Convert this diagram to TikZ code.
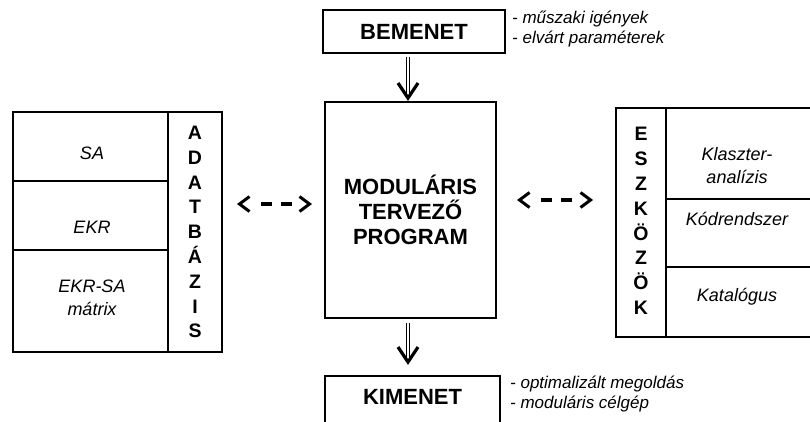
\documentclass[tikz,border=0pt]{standalone}
\usepackage{fontspec}
\setmainfont{Liberation Sans}
\usetikzlibrary{arrows.meta,calc}
\begin{document}
\begin{tikzpicture}[x=1pt,y=-1pt,
  box/.style={draw,line width=1.2pt,inner sep=0pt,outer sep=0pt},
  mainbox/.style={draw,line width=2pt,inner sep=0pt,outer sep=0pt},
  title/.style={font=\bfseries\fontsize{22}{25}\selectfont,align=center},
  note/.style={font=\itshape\fontsize{17}{19.5}\selectfont,align=left,anchor=west,inner sep=0pt},
  cell/.style={font=\itshape\fontsize{18}{23}\selectfont,align=center,inner sep=0pt},
  vert/.style={font=\bfseries\fontsize{19.5}{24.8}\selectfont,align=center,inner sep=0pt},
  shaft/.style={double,double distance=2.6pt,line width=0.8pt},
  chev/.style={line width=3.2pt,line join=miter},
  dasharrow/.style={line width=3.2pt,dash pattern=on 0pt off 20pt on 11pt off 9pt on 11pt off 60pt,
    {Straight Barb[length=10pt,width=15pt,line width=3pt]}-{Straight Barb[length=10pt,width=15pt,line width=3pt]}}
]
\clip (0,0) rectangle (810,421);
% boxes
\node[box,minimum width=182pt,minimum height=43pt,title] (bem) at (414,31.5) {BEMENET};
\node[note] (bemnote) at (512,29) {- műszaki igények\\- elvárt paraméterek};
\node[mainbox,minimum width=171pt,minimum height=216pt] (main) at (410.5,210) {};
\node[title] (maintxt) at (main.center) {MODULÁRIS\\TERVEZŐ\\PROGRAM};
\node[box,minimum width=175pt,minimum height=80pt,anchor=north west,title] (kim) at (325,376) {};
\node[title] (kimtxt) at (412.5,397) {KIMENET};
\node[note] (kimnote) at (510,394) {- optimalizált megoldás\\- moduláris célgép};
% left database
\node[box,minimum width=209pt,minimum height=240pt] (db) at (117.5,232) {};
\draw[line width=1.2pt] (168,112) -- (168,352);
\draw[line width=1.2pt] (13,181) -- (168,181);
\draw[line width=1.2pt] (13,250) -- (168,250);
\node[cell] (sa) at (92,153) {SA};
\node[cell] (ekr) at (92,227) {EKR};
\node[cell] (mx) at (92,298) {EKR-SA\\mátrix};
\node[vert] (adat) at (195,232) {A\\D\\A\\T\\B\\Á\\Z\\I\\S};
% right tools
\node[box,minimum width=230pt,minimum height=229pt,anchor=north west] (tools) at (616,108) {};
\draw[line width=1.2pt] (666,108) -- (666,337);
\draw[line width=1.2pt] (666,199) -- (850,199);
\draw[line width=1.2pt] (666,267) -- (850,267);
\node[cell] (kl) at (737,166) {Klaszter-\\analízis};
\node[cell] (kod) at (737,219) {Kódrendszer};
\node[cell] (kat) at (737,297) {Katalógus};
\node[vert] (eszk) at (641,221) {E\\S\\Z\\K\\Ö\\Z\\Ö\\K};
% arrows
\draw[shaft] ($(main.north |- bem.south)+(-2.5,4)$) -- ($(main.north)+(-2.5,-5)$);
\draw[chev] ($(main.north)+(-12.5,-19)$) -- ($(main.north)+(-2.5,-4)$) -- ($(main.north)+(7.5,-19)$);
\draw[shaft] ($(main.south)+(-2.5,5)$) -- ($(kim.north -| main.south)+(-2.5,-15)$);
\draw[chev] ($(kim.north -| main.south)+(-12.5,-29)$) -- ($(kim.north -| main.south)+(-2.5,-14)$) -- ($(kim.north -| main.south)+(7.5,-29)$);
\draw[dasharrow] ($(db.east |- 0,204)+(15,0)$) -- ($(main.west |- 0,204)+(-13,0)$);
\draw[dasharrow] ($(main.east |- 0,200)+(21,0)$) -- ($(tools.west |- 0,200)+(-23,0)$);
\end{tikzpicture}
\end{document}
